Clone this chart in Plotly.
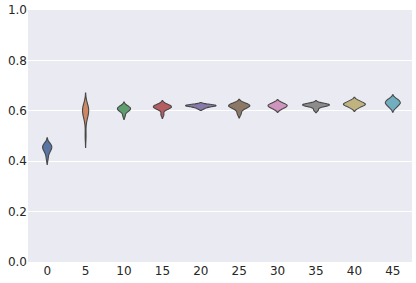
import numpy as np
import plotly.graph_objects as go

categories = ["0", "5", "10", "15", "20", "25", "30", "35", "40", "45"]
samples = [
    [0.41, 0.43, 0.44, 0.445, 0.45, 0.455, 0.46, 0.46, 0.465, 0.47],
    [0.50, 0.56, 0.58, 0.59, 0.595, 0.60, 0.605, 0.61, 0.615, 0.625],
    [0.58, 0.595, 0.60, 0.603, 0.606, 0.608, 0.61, 0.613, 0.617, 0.62],
    [0.585, 0.605, 0.61, 0.613, 0.615, 0.617, 0.619, 0.621, 0.625],
    [0.608, 0.614, 0.617, 0.619, 0.620, 0.621, 0.622, 0.624, 0.626],
    [0.588, 0.605, 0.612, 0.616, 0.619, 0.621, 0.623, 0.626, 0.629],
    [0.605, 0.611, 0.615, 0.618, 0.620, 0.622, 0.625, 0.629, 0.633],
    [0.603, 0.615, 0.619, 0.621, 0.623, 0.624, 0.625, 0.627, 0.630],
    [0.610, 0.617, 0.621, 0.624, 0.626, 0.628, 0.631, 0.636, 0.641],
    [0.610, 0.618, 0.624, 0.628, 0.631, 0.634, 0.638, 0.643, 0.648],
]
y_ticks = [0.0, 0.2, 0.4, 0.6, 0.8, 1.0]

colors = ["#5875A4", "#CC8963", "#5F9E6E", "#B55D60", "#857AAB",
          "#8D7866", "#D095BF", "#8C8C8C", "#C1B37F", "#71AEC0"]
widths = [0.24, 0.16, 0.34, 0.47, 0.8, 0.55, 0.5, 0.7, 0.57, 0.39]

fig = go.Figure()
for cat, vals, col, w in zip(categories, samples, colors, widths):
    arr = np.asarray(vals)
    bw = float(np.std(arr, ddof=1) * len(arr) ** -0.2)  # Scott's rule (seaborn)
    fig.add_trace(go.Violin(
        x=[cat] * len(vals), y=vals, fillcolor=col, opacity=1,
        line=dict(color="#474747", width=1.1), width=w, bandwidth=bw,
        points=False, box_visible=False, meanline_visible=False,
        spanmode="soft", showlegend=False, hoverinfo="skip",
    ))

fig.update_layout(
    width=416, height=283,
    margin=dict(l=28, r=4, t=10, b=21),
    paper_bgcolor="white", plot_bgcolor="#EAEAF2",
    violinmode="overlay",
    font=dict(family="DejaVu Sans", size=12, color="#262626"),
)
fig.update_xaxes(type="category", categoryorder="array", categoryarray=categories,
                 showgrid=False, zeroline=False, ticks="", ticklen=0,
                 range=[-0.5, 9.5], automargin=False)
fig.update_yaxes(range=[0, 1], tickvals=y_ticks, ticktext=[f"{v:.1f}" for v in y_ticks],
                 showgrid=True, gridcolor="white", gridwidth=1, zeroline=False, ticks="",
                 automargin=False)
fig.write_html("out.html", config={"displayModeBar": False},
               post_script="document.body.style.margin='0';document.body.style.padding='0';")
